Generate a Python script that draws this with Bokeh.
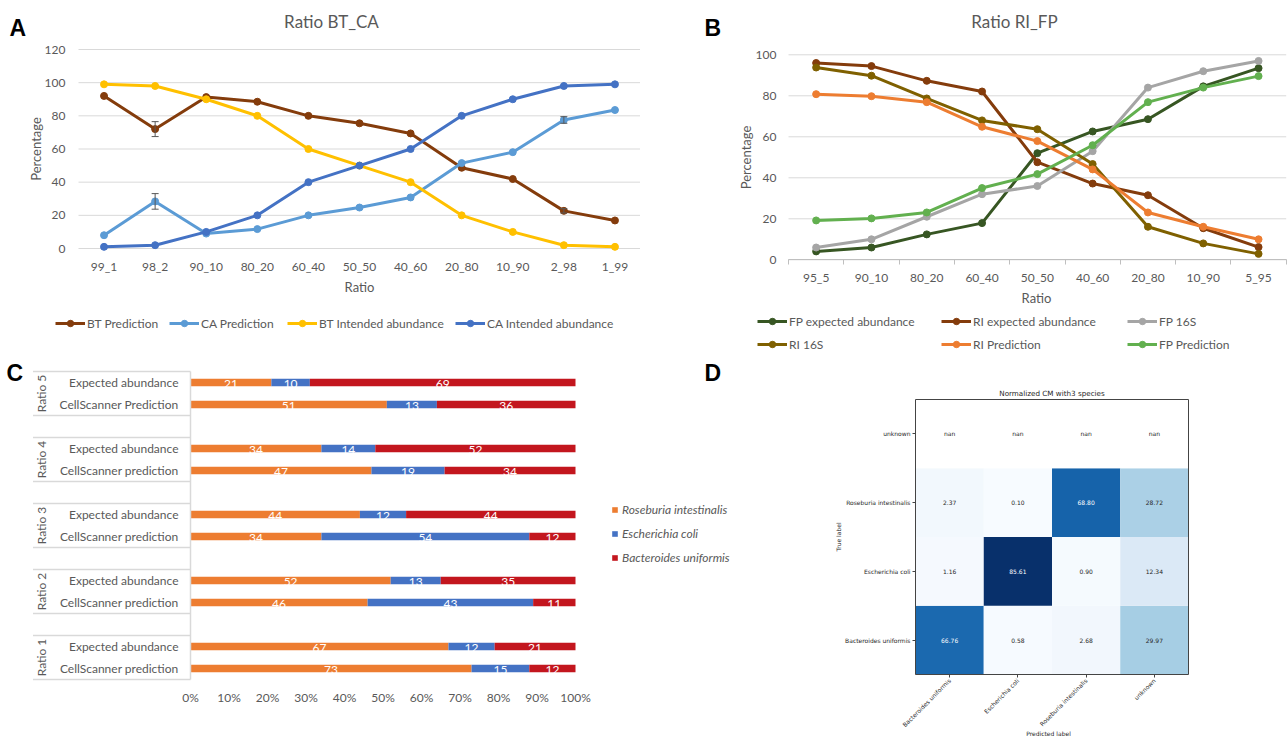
import numpy as np
from bokeh.plotting import figure
from bokeh.models import (ColumnDataSource, Range1d, Legend, LegendItem, Label, LinearAxis,
                          Whisker, TeeHead, FixedTicker, PrintfTickFormatter, LinearColorMapper)
from bokeh.layouts import row, column
from bokeh.embed import file_html
from bokeh.resources import INLINE
from bokeh.core.properties import value

FONT = "Lato"
GRAY = "#595959"
GRID = "#D9D9D9"

# ---------------- Panel A data ----------------
a_ratios = ["99_1", "98_2", "90_10", "80_20", "60_40", "50_50", "40_60", "20_80", "10_90", "2_98", "1_99"]
a_bt_pred = [92.0, 72.0, 91.3, 88.5, 80.0, 75.5, 69.4, 48.7, 41.9, 22.7, 16.9]
a_ca_pred = [8.0, 28.4, 9.0, 11.7, 20.0, 24.7, 30.8, 51.5, 58.1, 77.5, 83.5]
a_bt_int = [99, 98, 90, 80, 60, 50, 40, 20, 10, 2, 1]
a_ca_int = [1, 2, 10, 20, 40, 50, 60, 80, 90, 98, 99]
a_err_ratios = ["98_2", "2_98"]
a_bt_err = [4.5, 1.3]
a_ca_err = [4.7, 2.0]
a_yticks = [0, 20, 40, 60, 80, 100, 120]

# ---------------- Panel B data ----------------
b_ratios = ["95_5", "90_10", "80_20", "60_40", "50_50", "40_60", "20_80", "10_90", "5_95"]
b_fp_exp = [4.1, 6.0, 12.4, 17.9, 52.0, 62.6, 68.6, 84.6, 93.5]
b_ri_exp = [96.0, 94.5, 87.3, 82.1, 47.6, 37.2, 31.5, 15.4, 6.2]
b_fp_16s = [6.0, 10.0, 21.0, 32.0, 36.0, 53.0, 84.0, 92.0, 97.0]
b_ri_16s = [93.8, 89.8, 78.7, 68.0, 63.7, 46.7, 16.1, 8.0, 2.9]
b_ri_pred = [80.8, 79.8, 76.9, 64.9, 57.9, 44.1, 23.1, 16.1, 10.0]
b_fp_pred = [19.2, 20.2, 23.1, 35.0, 41.8, 55.9, 76.9, 84.0, 89.6]
b_yticks = [0, 20, 40, 60, 80, 100]

# ---------------- Panel C data ----------------
c_groups = ["Ratio 1", "Ratio 2", "Ratio 3", "Ratio 4", "Ratio 5"]
c_ratio = ["Ratio 1", "Ratio 1", "Ratio 2", "Ratio 2", "Ratio 3", "Ratio 3",
           "Ratio 4", "Ratio 4", "Ratio 5", "Ratio 5"]
c_sample = ["CellScanner prediction", "Expected abundance", "CellScanner prediction", "Expected abundance",
            "CellScanner prediction", "Expected abundance", "CellScanner prediction", "Expected abundance",
            "CellScanner Prediction", "Expected abundance"]
c_roseburia = [73, 67, 46, 52, 34, 44, 47, 34, 51, 21]
c_escherichia = [15, 12, 43, 13, 54, 12, 19, 14, 13, 10]
c_bacteroides = [12, 21, 11, 35, 12, 44, 34, 52, 36, 69]
c_species = ["Roseburia intestinalis", "Escherichia coli", "Bacteroides uniformis"]
c_xticks = list(range(0, 101, 10))

# ---------------- Panel D data ----------------
d_labels = ["Bacteroides uniformis", "Escherichia coli", "Roseburia intestinalis", "unknown"]
d_row_bacteroides = [66.76, 0.58, 2.68, 29.97]
d_row_escherichia = [1.16, 85.61, 0.90, 12.34]
d_row_roseburia = [2.37, 0.10, 68.80, 28.72]
d_row_unknown = [float("nan"), float("nan"), float("nan"), float("nan")]


class Geo:
    """Maps reference-picture pixels to a figure whose frame is its whole canvas."""
    def __init__(self, canvas, data_box, xr, yr):
        self.cx0, self.cy0, self.cx1, self.cy1 = canvas
        dx0, dy0, dx1, dy1 = data_box
        xa, xb = xr
        ya, yb = yr
        self.ppx = (dx1 - dx0) / (xb - xa)
        self.ppy = (dy1 - dy0) / (yb - ya)
        self.x0 = xa - (dx0 - self.cx0) / self.ppx
        self.x1 = xb + (self.cx1 - dx1) / self.ppx
        self.y0 = ya - (self.cy1 - dy1) / self.ppy
        self.y1 = yb + (dy0 - self.cy0) / self.ppy

    def X(self, px):
        return self.x0 + (px - self.cx0) / self.ppx

    def sx(self, px):
        return px - self.cx0

    def sy(self, py):
        return self.cy1 - py


def make_fig(g):
    p = figure(width=int(round(g.cx1 - g.cx0)), height=int(round(g.cy1 - g.cy0)),
               x_range=Range1d(g.x0, g.x1), y_range=Range1d(g.y0, g.y1),
               x_axis_location=None, y_axis_location=None, title=None,
               min_border=0, min_border_left=0, min_border_right=0, min_border_top=0,
               min_border_bottom=0, output_backend="svg", toolbar_location=None)
    p.outline_line_color = None
    p.background_fill_color = "white"
    p.border_fill_color = "white"
    p.grid.visible = False
    return p


def style_axis(ax, size="12px", font=FONT, color=GRAY):
    ax.major_label_text_font = font
    ax.major_label_text_font_size = size
    ax.major_label_text_color = color
    ax.major_tick_out = 0
    ax.major_tick_in = 0
    ax.minor_tick_out = 0
    ax.minor_tick_in = 0
    ax.major_tick_line_color = None
    ax.minor_tick_line_color = None
    ax.axis_line_color = None


def add_label(p, g, X, Y, text, size, color=GRAY, font=FONT, style="normal",
              align="center", baseline="middle", angle=0.0):
    p.add_layout(Label(x=g.sx(X), y=g.sy(Y), x_units="screen", y_units="screen", text=text,
                       text_font=font, text_font_size=size, text_color=color,
                       text_font_style=style, text_align=align, text_baseline=baseline,
                       angle=angle))


def add_legend(p, g, X, Y, label, renderers, gw=30, gh=16, lh=16, h=16, italic=False, standoff=2):
    lg = Legend(items=[LegendItem(label=label, renderers=renderers)],
                location=(g.sx(X), g.sy(Y + h / 2)), orientation="horizontal",
                glyph_width=gw, glyph_height=gh, label_height=lh, label_standoff=standoff,
                padding=0, margin=0, spacing=0, border_line_color=None,
                background_fill_alpha=0, label_text_font=FONT, label_text_font_size="12px",
                label_text_color=GRAY,
                label_text_font_style="italic" if italic else "normal")
    p.add_layout(lg)


def letter(p, g, X, Y, text):
    add_label(p, g, X, Y, text, "23px", color="black", font="Liberation Sans", style="bold",
              align="left", baseline="alphabetic")


# =============== Panel A ===============
a_n = len(a_ratios)
a_x = [i + 0.5 for i in range(a_n)]
gA = Geo((0, 0, 640, 352), (78, 49, 640, 248), (0, a_n), (0, 120))
pA = make_fig(gA)
pA.segment(x0=[0] * len(a_yticks), x1=[a_n] * len(a_yticks), y0=a_yticks, y1=a_yticks,
           line_color=GRID, line_width=1)
ayA = LinearAxis(fixed_location=0, ticker=FixedTicker(ticks=a_yticks))
style_axis(ayA)
ayA.major_label_standoff = 13
pA.add_layout(ayA, "left")
axA = LinearAxis(fixed_location=0, ticker=FixedTicker(ticks=a_x),
                 major_label_overrides={x: r for x, r in zip(a_x, a_ratios)})
style_axis(axA)
axA.major_label_standoff = 10
pA.add_layout(axA, "below")

srcA = ColumnDataSource(dict(x=a_x, bt_pred=a_bt_pred, ca_pred=a_ca_pred,
                             bt_int=a_bt_int, ca_int=a_ca_int))
a_series = [("bt_pred", "BT Prediction", "#843C0C"),
            ("ca_pred", "CA Prediction", "#5B9BD5"),
            ("bt_int", "BT Intended abundance", "#FFC000"),
            ("ca_int", "CA Intended abundance", "#4472C4")]
a_rend = {}
for col, name, colr in a_series:
    l = pA.line("x", col, source=srcA, line_color=colr, line_width=3)
    s = pA.scatter("x", col, source=srcA, size=7, fill_color=colr, line_color=colr)
    a_rend[col] = [l, s]

e_idx = [a_ratios.index(r) for r in a_err_ratios]
err_src = ColumnDataSource(dict(
    x=[a_x[i] for i in e_idx] * 2,
    u=[a_bt_pred[i] + e for i, e in zip(e_idx, a_bt_err)] + [a_ca_pred[i] + e for i, e in zip(e_idx, a_ca_err)],
    l=[a_bt_pred[i] - e for i, e in zip(e_idx, a_bt_err)] + [a_ca_pred[i] - e for i, e in zip(e_idx, a_ca_err)]))
pA.add_layout(Whisker(source=err_src, base="x", upper="u", lower="l", line_color=GRAY,
                      line_width=1, level="overlay",
                      upper_head=TeeHead(size=7, line_color=GRAY, line_width=1),
                      lower_head=TeeHead(size=7, line_color=GRAY, line_width=1)))

letter(pA, gA, 9, 27, "A")
add_label(pA, gA, 331, 21, "Ratio BT_CA", "17px")
add_label(pA, gA, 35, 148.5, "Percentage", "13px", angle=float(np.pi / 2))
add_label(pA, gA, 359, 286, "Ratio", "13px")
for (col, name, colr), X in zip(a_series, [55, 169, 287, 455]):
    add_legend(pA, gA, X, 323, name, a_rend[col])

# =============== Panel B ===============
b_n = len(b_ratios)
b_x = [i + 0.5 for i in range(b_n)]
gB = Geo((640, 0, 1288, 352), (788, 54.3, 1285.7, 259.3), (0, b_n), (0, 100))
pB = make_fig(gB)
pB.segment(x0=[0] * len(b_yticks), x1=[b_n] * len(b_yticks), y0=b_yticks, y1=b_yticks,
           line_color=GRID, line_width=1)
ayB = LinearAxis(fixed_location=0, ticker=FixedTicker(ticks=b_yticks))
style_axis(ayB)
ayB.major_label_standoff = 12
pB.add_layout(ayB, "left")
axB = LinearAxis(fixed_location=0, bounds=(0, b_n),
                 ticker=FixedTicker(ticks=b_x, minor_ticks=list(range(b_n + 1))),
                 major_label_overrides={x: r for x, r in zip(b_x, b_ratios)})
style_axis(axB)
axB.axis_line_color = "#BFBFBF"
axB.minor_tick_out = 5
axB.minor_tick_line_color = "#BFBFBF"
axB.major_label_standoff = 5
pB.add_layout(axB, "below")

srcB = ColumnDataSource(dict(x=b_x, fp_exp=b_fp_exp, ri_exp=b_ri_exp, fp_16s=b_fp_16s,
                             ri_16s=b_ri_16s, ri_pred=b_ri_pred, fp_pred=b_fp_pred))
b_series = [("fp_exp", "FP expected abundance", "#375623"),
            ("ri_exp", "RI expected abundance", "#843C0C"),
            ("fp_16s", "FP 16S", "#A5A5A5"),
            ("ri_16s", "RI 16S", "#7F6000"),
            ("ri_pred", "RI Prediction", "#ED7D31"),
            ("fp_pred", "FP Prediction", "#62B04F")]
b_rend = {}
for col, name, colr in b_series:
    l = pB.line("x", col, source=srcB, line_color=colr, line_width=3)
    s = pB.scatter("x", col, source=srcB, size=7, fill_color=colr, line_color=colr)
    b_rend[col] = [l, s]

letter(pB, gB, 704, 27, "B")
add_label(pB, gB, 1014, 21, "Ratio RI_FP", "17px")
add_label(pB, gB, 745, 157, "Percentage", "13px", angle=float(np.pi / 2))
add_label(pB, gB, 1036, 297, "Ratio", "13px")
b_pos = [(757, 321), (941, 321), (1127, 321), (757, 344), (941, 344), (1127, 344)]
for (col, name, colr), (X, Y) in zip(b_series, b_pos):
    add_legend(pB, gB, X, Y, name, b_rend[col])

# =============== Panel C ===============
c_slots = 3 * len(c_groups) - 1            # two bars + one blank row per group
c_y = []
seen = {}
for r in c_ratio:
    k = seen.get(r, 0)
    seen[r] = k + 1
    c_y.append(c_groups.index(r) * 3 + k + 0.5)
gC = Geo((0, 352, 760, 737), (190, 371, 575, 679), (0, 100), (0, c_slots))
pC = make_fig(gC)

# category-axis box lines (Excel multi-level axis)
sep_y = sorted({c_groups.index(r) * 3 + d for r in c_groups for d in (0, 2)})
pC.segment(x0=[gC.X(32.5)] * len(sep_y), x1=[0] * len(sep_y), y0=sep_y, y1=sep_y,
           line_color=GRID, line_width=1.5)

ayC = LinearAxis(fixed_location=0, bounds=(0, c_slots), ticker=FixedTicker(ticks=c_y),
                 major_label_overrides={y: s for y, s in zip(c_y, c_sample)})
style_axis(ayC)
ayC.axis_line_color = GRID
ayC.axis_line_width = 1.5
ayC.major_label_standoff = 12
pC.add_layout(ayC, "left")
axC = LinearAxis(fixed_location=0, ticker=FixedTicker(ticks=c_xticks),
                 formatter=PrintfTickFormatter(format="%d%%"))
style_axis(axC)
axC.major_label_standoff = 10
pC.add_layout(axC, "below")

c_colors = ["#ED7D31", "#4472C4", "#C3161E"]
srcC = ColumnDataSource(dict(y=c_y, ro=c_roseburia, es=c_escherichia, ba=c_bacteroides))
c_rend = pC.hbar_stack(["ro", "es", "ba"], y="y", height=0.34, color=c_colors, source=srcC,
                       line_color=None)

lab_x, lab_y, lab_t = [], [], []
for i, yy in enumerate(c_y):
    start = 0
    for v in (c_roseburia[i], c_escherichia[i], c_bacteroides[i]):
        lab_x.append(start + v / 2)
        lab_y.append(yy)
        lab_t.append(str(v))
        start += v
pC.text(x="x", y="y", text="t", source=ColumnDataSource(dict(x=lab_x, y=lab_y, t=lab_t)),
        text_color="white", text_align="center", text_baseline="middle",
        text_font=value(FONT), text_font_size="12px", y_offset=1)

for gi, gname in enumerate(c_groups):
    yc = 679 - (gi * 3 + 1) * gC.ppy       # centre of the group's two rows
    add_label(pC, gC, 41, yc, gname, "12px", angle=float(np.pi / 2))

for name, r, Y in zip(c_species, c_rend, [509.3, 533.3, 557.7]):
    add_legend(pC, gC, 611, Y, name, [r], gw=7, gh=7, lh=7, h=15, italic=True, standoff=4)

letter(pC, gC, 6, 372, "C")
letter(pC, gC, 704, 372, "D")

# =============== Panel D ===============
blues9 = ["#f7fbff", "#deebf7", "#c6dbef", "#9ecae1", "#6baed6", "#4292c6", "#2171b5", "#08519c", "#08306b"]


def interp_palette(pal, n):
    rgb = np.array([[int(c[i:i + 2], 16) for i in (1, 3, 5)] for c in pal], float)
    t = np.linspace(0, 1, n)
    s = np.linspace(0, 1, len(pal))
    out = np.stack([np.interp(t, s, rgb[:, k]) for k in range(3)], 1)
    return ["#%02x%02x%02x" % tuple(int(round(v)) for v in r) for r in out]


d_n = len(d_labels)
d_pos = [i + 0.5 for i in range(d_n)]
d_rows = [d_row_bacteroides, d_row_escherichia, d_row_roseburia, d_row_unknown]
dx, dy, dv, dt, dc = [], [], [], [], []
allv = np.array(d_rows, float)
vmin, vmax = np.nanmin(allv), np.nanmax(allv)
for yi, vals in enumerate(d_rows):
    for xi, v in enumerate(vals):
        dx.append(d_pos[xi])
        dy.append(d_pos[yi])
        dv.append(v)
        dt.append("nan" if np.isnan(v) else "%.2f" % v)
        dc.append("white" if (not np.isnan(v) and v > vmax / 2) else "#262626")

mapper = LinearColorMapper(palette=interp_palette(blues9, 256), low=vmin, high=vmax, nan_color="white")
gD = Geo((760, 352, 1288, 737), (915, 399, 1188, 674), (0, d_n), (0, d_n))
pD = make_fig(gD)
srcD = ColumnDataSource(dict(x=dx, y=dy, v=np.array(dv, float), t=dt, c=dc))
pD.rect(x="x", y="y", width=1, height=1, source=srcD,
        fill_color={"field": "v", "transform": mapper}, line_color=None)
pD.text(x="x", y="y", text="t", text_color="c", source=srcD, text_align="center",
        text_baseline="middle", text_font=value("DejaVu Sans"), text_font_size="6px")
pD.quad(left=[0], right=[d_n], bottom=[0], top=[d_n], fill_color=None,
        line_color="#444444", line_width=1)
ayD = LinearAxis(fixed_location=0, ticker=FixedTicker(ticks=d_pos),
                 major_label_overrides={p: l for p, l in zip(d_pos, d_labels)})
axD = LinearAxis(fixed_location=0, ticker=FixedTicker(ticks=d_pos),
                 major_label_overrides={p: l for p, l in zip(d_pos, d_labels)})
for ax in (ayD, axD):
    style_axis(ax, size="6px", font="DejaVu Sans", color="#262626")
    ax.major_tick_out = 3
    ax.major_tick_line_color = "#444444"
    ax.major_label_standoff = 2
axD.major_label_orientation = float(np.pi / 4)
pD.add_layout(ayD, "left")
pD.add_layout(axD, "below")
add_label(pD, gD, 1051.5, 393, "Normalized CM with3 species", "7.2px", color="#262626",
          font="DejaVu Sans")
add_label(pD, gD, 838, 536.5, "True label", "6px", color="#262626", font="DejaVu Sans",
          angle=float(np.pi / 2))
add_label(pD, gD, 1048, 733, "Predicted label", "6px", color="#262626", font="DejaVu Sans")

layout = column(row(pA, pB), row(pC, pD))
open("out.html", "w").write(file_html(layout, INLINE))
